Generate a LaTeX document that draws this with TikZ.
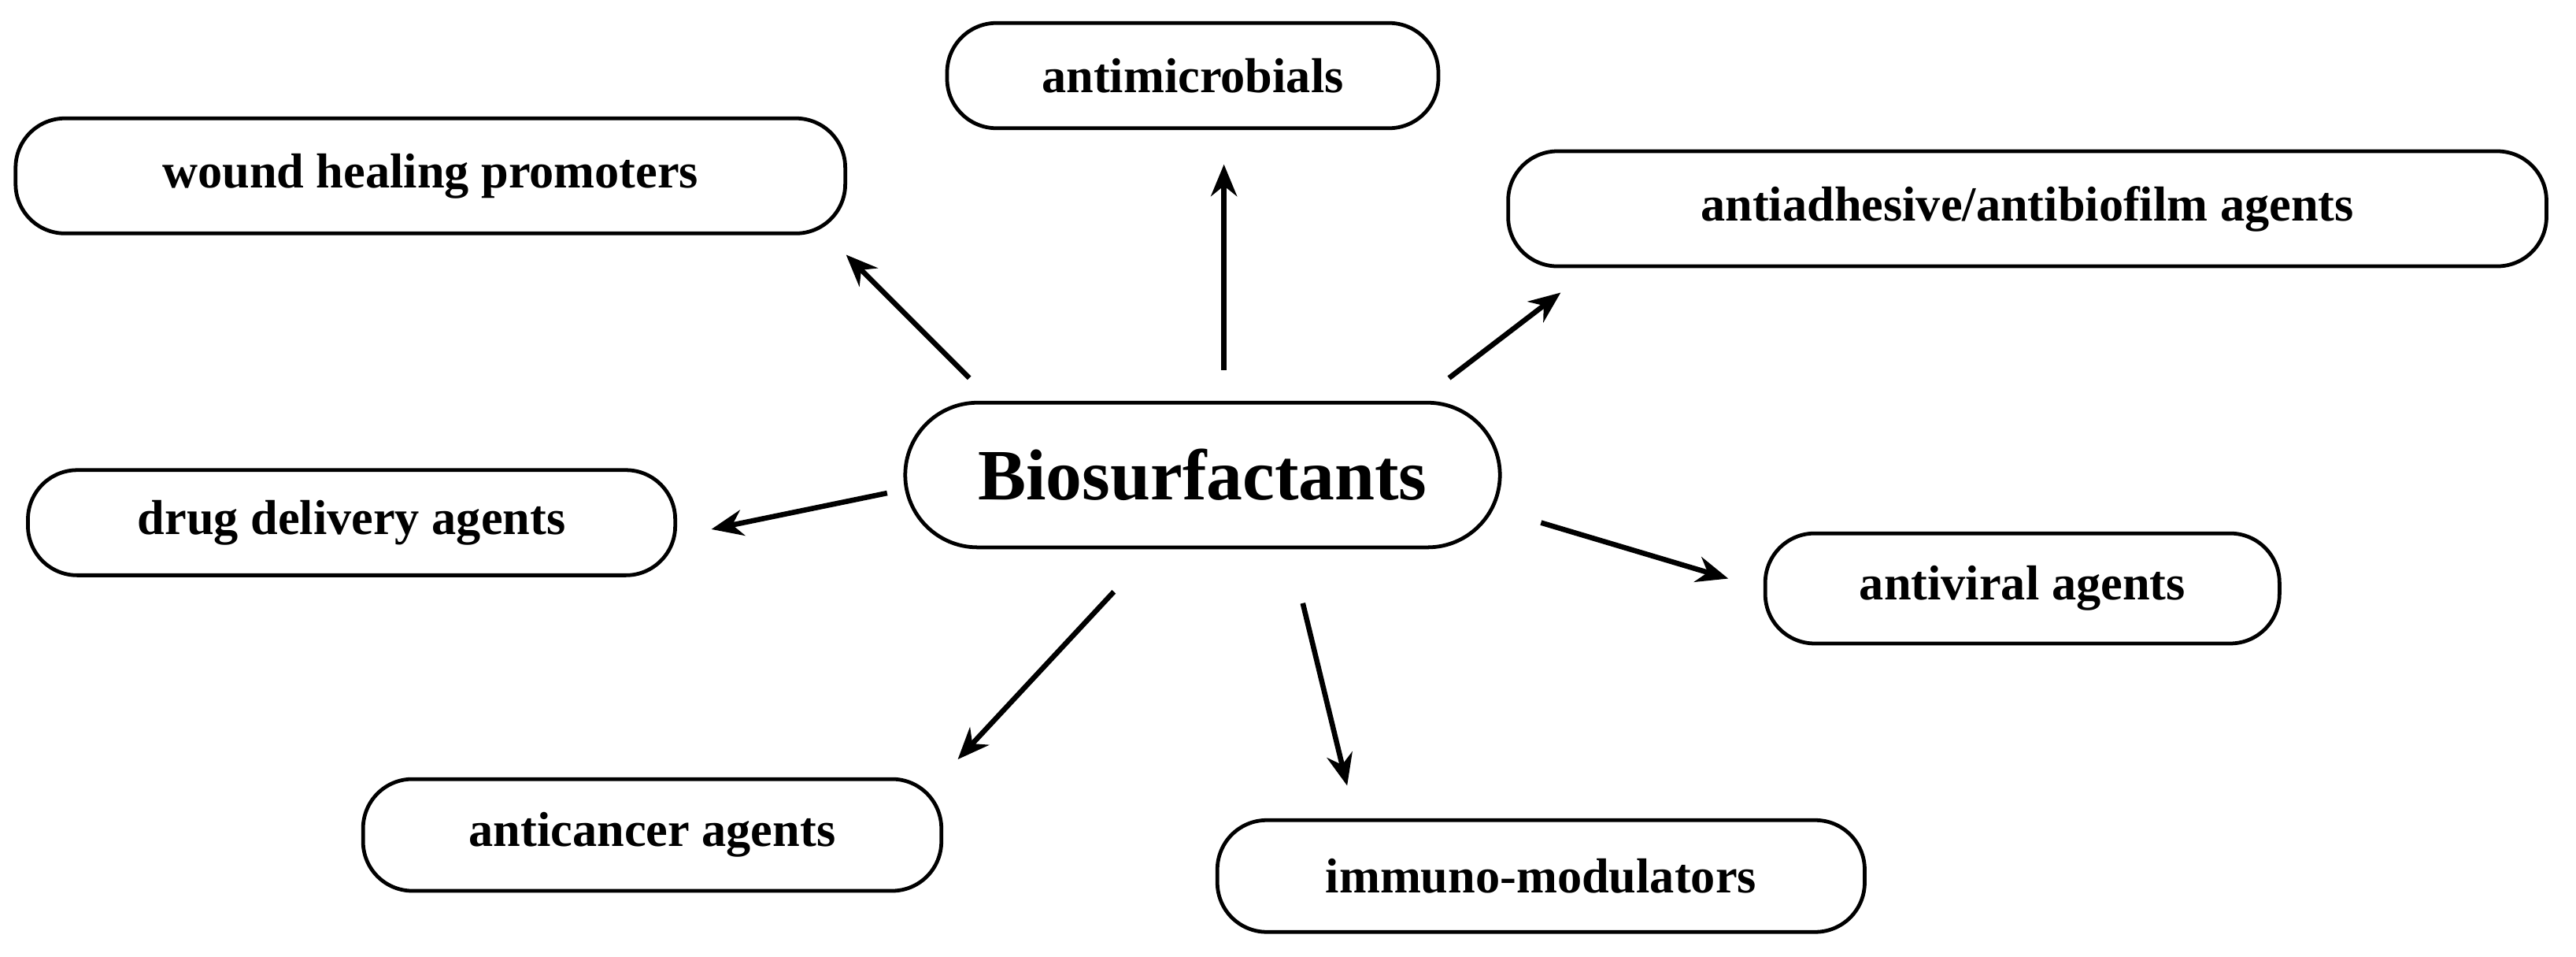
\documentclass[tikz,border=0pt]{standalone}
\usepackage{fontspec}
\setmainfont{Liberation Serif}
\usetikzlibrary{arrows.meta}
\begin{document}
\begin{tikzpicture}[x=0.02cm,y=-0.02cm,
 box/.style={draw,line width=1.3pt,rounded corners=0.6cm,font=\fontsize{17}{20}\selectfont\bfseries,inner sep=0pt},
 arr/.style={line width=1.8pt,-{Stealth[length=11pt,width=9pt]}}]
\useasboundingbox (0,0) rectangle (1568,582);
\node[box,minimum width=299*0.02cm,minimum height=64*0.02cm] (am) at (726,46) {antimicrobials};
\node[box,minimum width=505*0.02cm,minimum height=70*0.02cm] (wh) at (262,107) {wound healing promoters};
\node[box,minimum width=632*0.02cm,minimum height=70*0.02cm] (aa) at (1234,127) {antiadhesive/antibiofilm agents};
\node[box,rounded corners=0.88cm,minimum width=362*0.02cm,minimum height=88*0.02cm,font=\fontsize{25}{30}\selectfont\bfseries] (bs) at (732,289) {Biosurfactants};
\node[box,minimum width=394*0.02cm,minimum height=64*0.02cm] (dd) at (214,318) {drug delivery agents};
\node[box,minimum width=313*0.02cm,minimum height=67*0.02cm] (av) at (1231,358) {antiviral agents};
\node[box,minimum width=352*0.02cm,minimum height=68*0.02cm] (ac) at (397,508) {anticancer agents};
\node[box,minimum width=394*0.02cm,minimum height=68*0.02cm] (im) at (938,533) {immuno-modulators};
\coordinate (a1s) at (745,225); \coordinate (a1e) at (745,100);
\coordinate (a2s) at (590,230); \coordinate (a2e) at (515,155);
\coordinate (a3s) at (882,230); \coordinate (a3e) at (950,178);
\coordinate (a4s) at (540,300); \coordinate (a4e) at (433,322);
\coordinate (a5s) at (938,318); \coordinate (a5e) at (1052,352);
\coordinate (a6s) at (678,360); \coordinate (a6e) at (583,462);
\coordinate (a7s) at (793,367); \coordinate (a7e) at (820,478);
\foreach \i in {1,...,7} \draw[arr] (a\i s) -- (a\i e);
\end{tikzpicture}
\end{document}
